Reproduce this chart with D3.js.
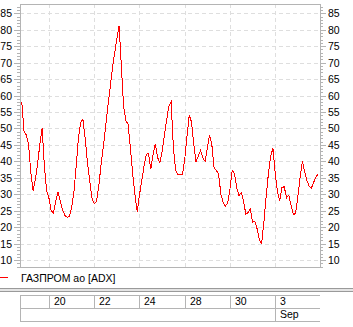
<!DOCTYPE html>
<html>
<head>
<meta charset="utf-8">
<script src="https://cdn.jsdelivr.net/npm/d3@7"></script>
<style>
body { margin: 0; background: #fff; }
text { font-family: "Liberation Sans", Arial, sans-serif; font-size: 10.5px; fill: #000; }
</style>
</head>
<body>
<div id="chart"></div>
<script>
// ADX values, 10 bars per trading day
var adx = [
  58, 49, 48, 45, 36.5, 31, 34.6, 39.4, 45.3, 50,
  38.3, 31, 28.8, 25, 24.2, 28, 30.8, 28, 25.3, 23.6,
  23, 23.2, 26, 30.5, 38.2, 46.8, 51.8, 52.8, 47, 39.8,
  34.2, 28.8, 27.2, 27.8, 32.5, 38.7, 44.2, 50.2, 56.6, 62,
  68, 72.8, 77.1, 81.2, 69, 56.6, 52.4, 51.2, 44, 36.2,
  29.9, 24.7, 29.8, 34, 38.4, 42.1, 42.5, 37.6, 42, 45.2,
  41.2, 39.6, 42.8, 48, 52.5, 56.8, 58, 44, 37.2, 36,
  35.9, 35.9, 40.5, 47.5, 54, 52, 45.3, 39.9, 41.5, 43.4,
  41, 40, 44.1, 48, 45, 38, 37.3, 36, 30, 27.5,
  26.4, 27.4, 31.6, 37.2, 36.3, 32, 29.6, 30.5, 28, 24,
  24.4, 25.5, 21.5, 21.7, 19.5, 16.2, 15, 21.5, 29.3, 36.3,
  41.5, 44, 36.3, 30.8, 28, 32, 32.3, 28.9, 29.7, 26.7,
  23.9, 24.1, 29.3, 35, 40, 37, 34.2, 32.5, 31.9, 33.6,
  35.3, 36
];

var yTicks = [10, 15, 20, 25, 30, 35, 40, 45, 50, 55, 60, 65, 70, 75, 80, 85];
var dayTicks = [12, 32, 52, 72, 92, 112];
var dayLabels = ['20', '22', '24', '28', '30', '3'];
var monthTicks = [112];
var monthLabels = ['Sep'];
var seriesName = 'ГАЗПРОМ ао [ADX]';

var width = 353, height = 327;
var plot = {left: 20, top: 4, right: 320, bottom: 267};
var gray = '#b4b4b4';

var svg = d3.select('#chart').append('svg')
    .attr('width', width)
    .attr('height', height);

var x = d3.scaleLinear().domain([-0.8, 131.8]).range([plot.left, plot.right]);
var y = d3.scaleLinear().domain([7.9, 87.8]).range([plot.bottom, plot.top]);
var xr = x.copy().interpolate(d3.interpolateRound);
var yr = y.copy().interpolate(d3.interpolateRound);

// grid
var grid = svg.append('g')
    .attr('stroke', '#dedede')
    .attr('stroke-dasharray', '4,3')
    .attr('shape-rendering', 'crispEdges');

grid.selectAll('.hgrid').data(yTicks).enter().append('line')
    .attr('class', 'hgrid')
    .attr('x1', plot.left).attr('x2', plot.right)
    .attr('y1', function(d) { return yr(d) + 0.5; })
    .attr('y2', function(d) { return yr(d) + 0.5; });

grid.selectAll('.vgrid').data(dayTicks).enter().append('line')
    .attr('class', 'vgrid')
    .attr('y1', plot.top).attr('y2', plot.bottom)
    .attr('x1', function(d) { return xr(d) + 0.5; })
    .attr('x2', function(d) { return xr(d) + 0.5; });

// frame
svg.append('rect')
    .attr('x', plot.left + 0.5)
    .attr('y', plot.top + 0.5)
    .attr('width', plot.right - plot.left)
    .attr('height', plot.bottom - plot.top)
    .attr('fill', 'none')
    .attr('stroke', gray)
    .attr('shape-rendering', 'crispEdges');

// axes: minor ticks every 1, major every 5 on both sides
function addAxis(axisFn, xpos, labelled) {
  var minor = svg.append('g')
      .attr('transform', 'translate(' + xpos + ',0)')
      .call(axisFn(yr).tickValues(d3.range(8, 88)).tickSize(3).tickFormat(''));
  var major = svg.append('g')
      .attr('transform', 'translate(' + xpos + ',0)')
      .call(axisFn(yr).tickValues(yTicks).tickSize(6).tickPadding(2));
  [minor, major].forEach(function(g) {
    g.select('.domain').remove();
    g.selectAll('line').attr('stroke', gray);
    g.selectAll('text').style('font-family', '"Liberation Sans", Arial, sans-serif')
      .style('font-size', '10.5px').attr('fill', '#000');
  });
}
addAxis(d3.axisLeft, plot.left, true);
addAxis(d3.axisRight, plot.right, true);

// series line
var line = d3.line()
    .x(function(d, i) { return x(i); })
    .y(function(d) { return y(d); });

svg.append('path')
    .datum(adx)
    .attr('d', line)
    .attr('fill', 'none')
    .attr('stroke', '#ff0000')
    .attr('stroke-width', 1)
    .attr('shape-rendering', 'crispEdges');

// legend
svg.append('line')
    .attr('x1', 0).attr('x2', 8)
    .attr('y1', 277.5).attr('y2', 277.5)
    .attr('stroke', '#ff0000');
svg.append('text')
    .attr('x', 21).attr('y', 281.5)
    .text(seriesName);

// separator
svg.append('rect')
    .attr('x', 0).attr('y', 288)
    .attr('width', width).attr('height', 4)
    .attr('fill', '#e4e4e4');
[288.5, 291.5].forEach(function(yy) {
  svg.append('line')
      .attr('x1', 0).attr('x2', width)
      .attr('y1', yy).attr('y2', yy)
      .attr('stroke', '#9a9a9a');
});

// date table
var table = svg.append('g')
    .attr('stroke', gray)
    .attr('shape-rendering', 'crispEdges');
[295.5, 308.5, 321.5].forEach(function(yy) {
  table.append('line')
      .attr('x1', plot.left).attr('x2', plot.right)
      .attr('y1', yy).attr('y2', yy);
});
table.append('line')
    .attr('x1', plot.left + 0.5).attr('x2', plot.left + 0.5)
    .attr('y1', 295.5).attr('y2', 321.5);
table.selectAll('.dcell').data(dayTicks).enter().append('line')
    .attr('x1', function(d) { return xr(d) + 0.5; })
    .attr('x2', function(d) { return xr(d) + 0.5; })
    .attr('y1', 295.5).attr('y2', 308.5);
table.selectAll('.mcell').data(monthTicks).enter().append('line')
    .attr('x1', function(d) { return xr(d) + 0.5; })
    .attr('x2', function(d) { return xr(d) + 0.5; })
    .attr('y1', 308.5).attr('y2', 321.5);

svg.selectAll('.dlabel').data(dayTicks).enter().append('text')
    .attr('class', 'dlabel')
    .attr('x', function(d) { return xr(d) + 5; })
    .attr('y', 305)
    .text(function(d, i) { return dayLabels[i]; });
svg.selectAll('.mlabel').data(monthTicks).enter().append('text')
    .attr('class', 'mlabel')
    .attr('x', function(d) { return xr(d) + 5; })
    .attr('y', 318)
    .text(function(d, i) { return monthLabels[i]; });
</script>
</body>
</html>
